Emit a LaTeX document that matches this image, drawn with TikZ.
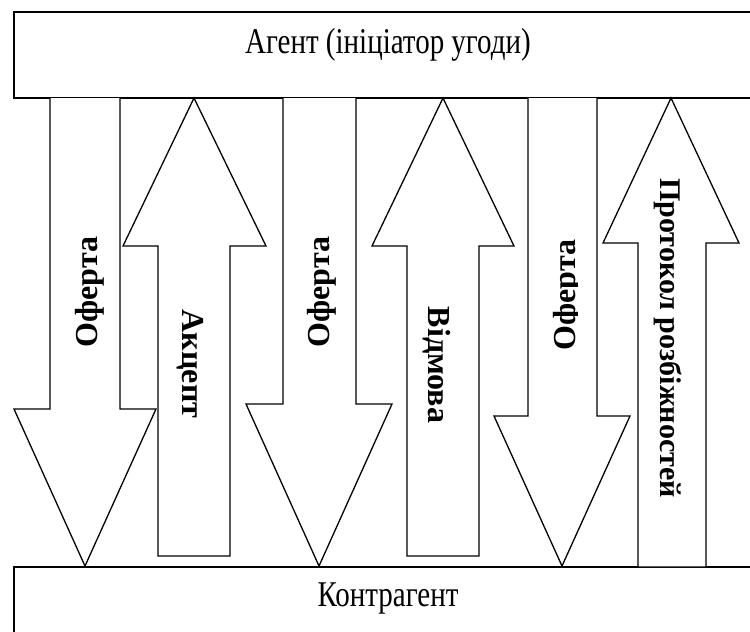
\documentclass[tikz,border=0pt]{standalone}
\usepackage{fontspec}
\setmainfont{Liberation Serif}
\begin{document}
\begin{tikzpicture}[x=1pt,y=-1pt,line width=1.3pt,line join=miter,
  boxtxt/.style={font=\fontsize{29}{33}\selectfont,inner sep=0pt,yscale=1.25},
  lbl/.style={font=\bfseries\fontsize{32}{36}\selectfont,inner sep=0pt},
  arr/.style={draw=black,fill=white}]
\useasboundingbox (0,0) rectangle (750,632);
\clip (0,0) rectangle (750,632);
% boxes
\draw[fill=white] (14,12) rectangle (762,98);
\node[boxtxt,anchor=base] (agent) at (388,53) {Агент (ініціатор угоди)};
\draw[fill=white] (14,567) rectangle (762,650);
\node[boxtxt,anchor=base] (kontr) at (388,606) {Контрагент};
% down arrows
\draw[arr] (50,98) -- (50,409) -- (14,409) -- (85,566) -- (156,409) -- (120,409) -- (120,98);
\draw[arr] (283,98) -- (283,404) -- (246,404) -- (319,566) -- (392,404) -- (356,404) -- (356,98);
\draw[arr] (528,98) -- (528,416) -- (494,416) -- (562,566) -- (630,416) -- (597,416) -- (597,98);
% up arrows
\draw[arr] (158,556) -- (158,246) -- (123,246) -- (194,98) -- (266,246) -- (230,246) -- (230,556) -- cycle;
\draw[arr] (407,556) -- (407,246) -- (372,246) -- (443,98) -- (514,246) -- (479,246) -- (479,556) -- cycle;
\draw[arr] (638,567) -- (638,243) -- (603,243) -- (671,98) -- (739,243) -- (706,243) -- (706,567) -- cycle;
% labels
\node[lbl,rotate=90] (of1) at (90,292) {Оферта};
\node[lbl,rotate=-90] (akc) at (190,364) {Акцепт};
\node[lbl,rotate=90] (of2) at (322,292) {Оферта};
\node[lbl,rotate=-90] (vid) at (437,365) {Відмова};
\begin{scope}
\clip (530,100) rectangle (577,400);
\node[lbl,rotate=90] (of3) at (568,295) {Оферта};
\end{scope}
\node[lbl,rotate=-90,font=\bfseries\fontsize{30}{34}\selectfont] (prot) at (668,338) {Протокол розбіжностей};
\end{tikzpicture}
\end{document}
